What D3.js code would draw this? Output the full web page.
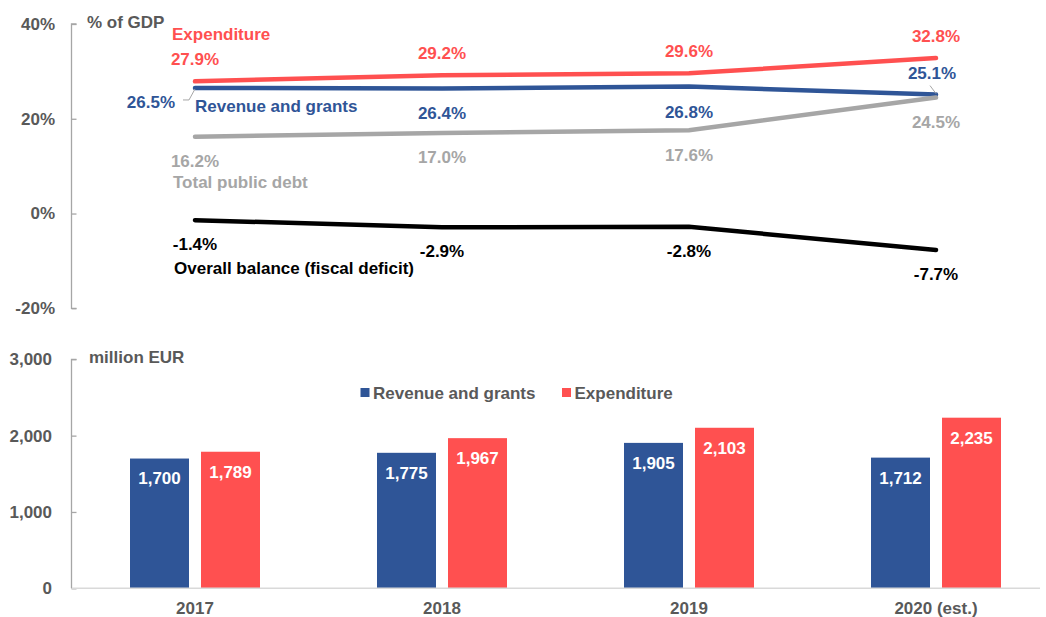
<!DOCTYPE html>
<html>
<head>
<meta charset="utf-8">
<script src="https://cdn.jsdelivr.net/npm/d3@7"></script>
<style>
  html, body { margin: 0; padding: 0; background: #fff; }
  svg { display: block; font-family: "Liberation Sans", Arial, sans-serif; font-weight: bold; }
</style>
</head>
<body>
<svg id="chart" width="1046" height="617"></svg>
<script>
// Fiscal indicators, 2017–2020
const years = ["2017", "2018", "2019", "2020 (est.)"];

// Share of GDP, %
const expenditurePct = [27.9, 29.2, 29.6, 32.8];
const revenuePct     = [26.5, 26.4, 26.8, 25.1];
const debtPct        = [16.2, 17.0, 17.6, 24.5];
const balancePct     = [-1.4, -2.9, -2.8, -7.7];

// Million EUR
const revenueEur     = [1700, 1775, 1905, 1712];
const expenditureEur = [1789, 1967, 2103, 2235];

const pctTicks = [-20, 0, 20, 40];
const eurTicks = [0, 1000, 2000, 3000];

const COLORS = {
  red: "#FF5050",
  blue: "#2F5597",
  gray: "#A6A6A6",
  black: "#000000",
  text: "#595959",
  axis: "#A6A6A6",
  base: "#D9D9D9"
};

const svg = d3.select("#chart");
const FS = 17;

const x = d3.scaleBand().domain(years).range([71.5, 1059.5]).padding(0);
const cx = d => x(d) + x.bandwidth() / 2;

// ---------- Upper panel: % of GDP ----------
const yTop = d3.scaleLinear().domain([-20, 40]).range([308.3, 24]);

const topAxis = svg.append("g").attr("transform", "translate(71.5,0)")
  .call(d3.axisRight(yTop).tickValues(pctTicks).tickSize(5).tickFormat(""));
topAxis.select(".domain").attr("stroke", COLORS.axis).attr("stroke-width", 1.3)
  .attr("d", `M5,${yTop(40)}H0V${yTop(-20)}H5`);
topAxis.selectAll(".tick line").attr("stroke", COLORS.axis).attr("stroke-width", 1.3);

svg.append("g").selectAll("text").data(pctTicks).join("text")
  .attr("x", 55).attr("y", d => yTop(d)).attr("dy", "0.35em")
  .attr("text-anchor", "end").attr("font-size", FS).attr("fill", COLORS.text)
  .text(d => d + "%");

svg.append("text").attr("x", 87).attr("y", 22).attr("dy", "0.35em")
  .attr("font-size", FS).attr("fill", COLORS.text).text("% of GDP");

const line = d3.line().x((d, i) => cx(years[i])).y(d => yTop(d));

const series = [
  { values: expenditurePct, color: COLORS.red },
  { values: revenuePct, color: COLORS.blue },
  { values: debtPct, color: COLORS.gray },
  { values: balancePct, color: COLORS.black }
];

svg.append("g").selectAll("path").data(series).join("path")
  .attr("d", s => line(s.values))
  .attr("fill", "none").attr("stroke", s => s.color)
  .attr("stroke-width", 4.5).attr("stroke-linecap", "round");

const fmtPct = v => v.toFixed(1) + "%";

// value labels: offset from each point (dy of text centre); anchor
function valueLabels(values, color, placement) {
  svg.append("g").selectAll("text").data(values).join("text")
    .attr("x", (v, i) => cx(years[i]) + (placement[i].dx || 0))
    .attr("y", (v, i) => yTop(v) + placement[i].dy)
    .attr("dy", "0.35em")
    .attr("text-anchor", (v, i) => placement[i].anchor || "middle")
    .attr("font-size", FS).attr("fill", color)
    .text(fmtPct);
}

valueLabels(expenditurePct, COLORS.red,
  [{ dy: -22 }, { dy: -22 }, { dy: -22 }, { dy: -22 }]);
valueLabels(revenuePct, COLORS.blue,
  [{ dy: 14, dx: -20, anchor: "end" }, { dy: 25 }, { dy: 26 }, { dy: -22, dx: -4 }]);
valueLabels(debtPct, COLORS.gray,
  [{ dy: 24 }, { dy: 24 }, { dy: 25 }, { dy: 25 }]);
valueLabels(balancePct, COLORS.black,
  [{ dy: 24 }, { dy: 24 }, { dy: 24 }, { dy: 24 }]);

// series names
const x0 = cx(years[0]);
const names = [
  { text: "Expenditure", color: COLORS.red, dx: -23, y: yTop(expenditurePct[0]) - 47 },
  { text: "Revenue and grants", color: COLORS.blue, dx: 0, y: yTop(revenuePct[0]) + 18 },
  { text: "Total public debt", color: COLORS.gray, dx: -22, y: yTop(debtPct[0]) + 45 },
  { text: "Overall balance (fiscal deficit)", color: COLORS.black, dx: -21, y: yTop(balancePct[0]) + 48 }
];
svg.append("g").selectAll("text").data(names).join("text")
  .attr("x", d => x0 + d.dx).attr("y", d => d.y).attr("dy", "0.35em")
  .attr("font-size", FS).attr("fill", d => d.color).text(d => d.text);

// leader lines
const p0 = [x0, yTop(revenuePct[0])];
svg.append("path")
  .attr("d", `M${p0[0] - 12},${p0[1] + 12}H${p0[0] - 6}L${p0[0]},${p0[1] + 1}`)
  .attr("fill", "none").attr("stroke", COLORS.gray).attr("stroke-width", 1);
const p3 = [cx(years[3]), yTop(revenuePct[3])];
svg.append("path")
  .attr("d", `M${p3[0] - 6},${p3[1] - 9}L${p3[0]},${p3[1] - 1}`)
  .attr("fill", "none").attr("stroke", COLORS.gray).attr("stroke-width", 1);

// ---------- Lower panel: million EUR ----------
const yBot = d3.scaleLinear().domain([0, 3000]).range([588.3, 359.3]);
const sub = d3.scaleBand().domain(["rev", "exp"]).range([-65, 65]).paddingInner(0.169);

const botAxis = svg.append("g").attr("transform", "translate(71.5,0)")
  .call(d3.axisRight(yBot).tickValues(eurTicks).tickSize(5).tickFormat(""));
botAxis.select(".domain").attr("stroke", COLORS.axis).attr("stroke-width", 1.3)
  .attr("d", `M5,${yBot(3000)}H0V${yBot(0)}`);
botAxis.selectAll(".tick line").attr("stroke", COLORS.axis).attr("stroke-width", 1.3);

svg.append("g").selectAll("text").data(eurTicks).join("text")
  .attr("x", 52).attr("y", d => yBot(d)).attr("dy", "0.35em")
  .attr("text-anchor", "end").attr("font-size", FS).attr("fill", COLORS.text)
  .text(d => d3.format(",")(d));

svg.append("text").attr("x", 89).attr("y", 357).attr("dy", "0.35em")
  .attr("font-size", FS).attr("fill", COLORS.text).text("million EUR");

const barData = years.flatMap((yr, i) => [
  { yr, key: "rev", v: revenueEur[i], color: COLORS.blue },
  { yr, key: "exp", v: expenditureEur[i], color: COLORS.red }
]);

svg.append("g").selectAll("rect").data(barData).join("rect")
  .attr("x", d => cx(d.yr) + sub(d.key))
  .attr("y", d => yBot(d.v))
  .attr("width", sub.bandwidth())
  .attr("height", d => yBot(0) - yBot(d.v))
  .attr("fill", d => d.color);

svg.append("g").selectAll("text").data(barData).join("text")
  .attr("x", d => cx(d.yr) + sub(d.key) + sub.bandwidth() / 2)
  .attr("y", d => yBot(d.v) + 20).attr("dy", "0.35em")
  .attr("text-anchor", "middle").attr("font-size", FS).attr("fill", "#fff")
  .text(d => d3.format(",")(d.v));

// baseline
svg.append("line")
  .attr("x1", 72).attr("x2", 1040).attr("y1", yBot(0)).attr("y2", yBot(0))
  .attr("stroke", COLORS.base).attr("stroke-width", 1.5);

// category labels
svg.append("g").selectAll("text").data(years).join("text")
  .attr("x", d => cx(d)).attr("y", 608).attr("dy", "0.35em")
  .attr("text-anchor", "middle").attr("font-size", FS).attr("fill", COLORS.text)
  .text(d => d);

// legend
const legend = [
  { text: "Revenue and grants", color: COLORS.blue, x: 360.5 },
  { text: "Expenditure", color: COLORS.red, x: 562 }
];
const lg = svg.append("g").selectAll("g").data(legend).join("g")
  .attr("transform", d => `translate(${d.x},388)`);
lg.append("rect").attr("width", 9).attr("height", 9).attr("fill", d => d.color);
lg.append("text").attr("x", 12.5).attr("y", 4.7).attr("dy", "0.35em")
  .attr("font-size", FS).attr("fill", COLORS.text).text(d => d.text);
</script>
</body>
</html>
